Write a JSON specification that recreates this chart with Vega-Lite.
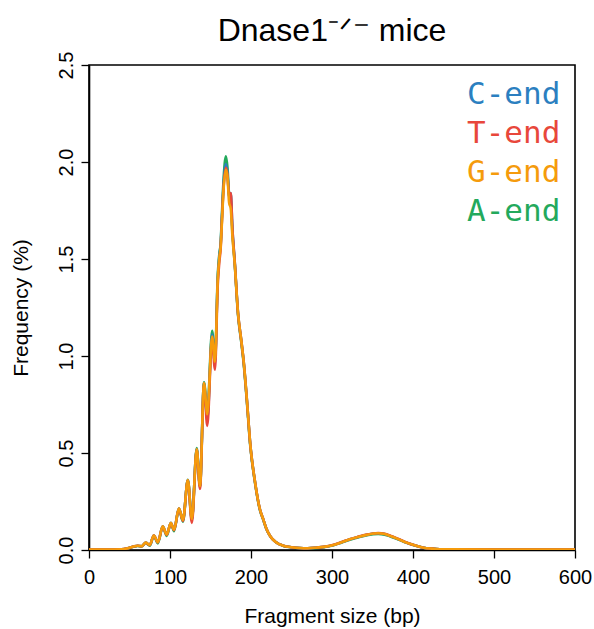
{
  "$schema": "https://vega.github.io/schema/vega-lite/v6.json",
  "autosize": "none",
  "width": 486,
  "height": 485,
  "padding": {"left": 89, "top": 65, "right": 19, "bottom": 79},
  "background": "white",
  "title": {
    "text": "Dnase1⁻ᐟ⁻ mice",
    "font": "Liberation Sans",
    "fontSize": 32,
    "fontWeight": "normal",
    "color": "black",
    "anchor": "middle",
    "offset": 3
  },
  "config": {
    "view": {"stroke": "black", "strokeWidth": 1.6},
    "axis": {
      "grid": false,
      "domainColor": "black",
      "domainWidth": 1.6,
      "tickColor": "black",
      "tickWidth": 1.3,
      "tickSize": 8,
      "labelFont": "Liberation Sans",
      "labelFontSize": 20,
      "labelColor": "black",
      "titleFont": "Liberation Sans",
      "titleFontSize": 21,
      "titleFontWeight": "normal",
      "titleColor": "black"
    }
  },
  "data": {
    "values": [
      {"bp": 0, "C": 0.002, "T": 0.002, "G": 0.002, "A": 0.002},
      {"bp": 20, "C": 0.002, "T": 0.002, "G": 0.002, "A": 0.002},
      {"bp": 40, "C": 0.003, "T": 0.003, "G": 0.003, "A": 0.003},
      {"bp": 50, "C": 0.012, "T": 0.012, "G": 0.012, "A": 0.011},
      {"bp": 55, "C": 0.018, "T": 0.018, "G": 0.018, "A": 0.017},
      {"bp": 60, "C": 0.022, "T": 0.022, "G": 0.022, "A": 0.021},
      {"bp": 65, "C": 0.02, "T": 0.019, "G": 0.02, "A": 0.018},
      {"bp": 70, "C": 0.038, "T": 0.037, "G": 0.038, "A": 0.036},
      {"bp": 75, "C": 0.026, "T": 0.025, "G": 0.026, "A": 0.022},
      {"bp": 80, "C": 0.075, "T": 0.074, "G": 0.075, "A": 0.073},
      {"bp": 85, "C": 0.04, "T": 0.039, "G": 0.04, "A": 0.034},
      {"bp": 91, "C": 0.122, "T": 0.12, "G": 0.122, "A": 0.12},
      {"bp": 96, "C": 0.08, "T": 0.078, "G": 0.08, "A": 0.073},
      {"bp": 101, "C": 0.14, "T": 0.138, "G": 0.14, "A": 0.138},
      {"bp": 105, "C": 0.105, "T": 0.102, "G": 0.105, "A": 0.097},
      {"bp": 111, "C": 0.215, "T": 0.213, "G": 0.215, "A": 0.213},
      {"bp": 116, "C": 0.155, "T": 0.15, "G": 0.155, "A": 0.146},
      {"bp": 122, "C": 0.36, "T": 0.358, "G": 0.36, "A": 0.362},
      {"bp": 127, "C": 0.16, "T": 0.14, "G": 0.16, "A": 0.152},
      {"bp": 133, "C": 0.52, "T": 0.515, "G": 0.52, "A": 0.525},
      {"bp": 137, "C": 0.33, "T": 0.315, "G": 0.33, "A": 0.325},
      {"bp": 142, "C": 0.86, "T": 0.85, "G": 0.86, "A": 0.865},
      {"bp": 146, "C": 0.67, "T": 0.64, "G": 0.7, "A": 0.71},
      {"bp": 152, "C": 1.11, "T": 1.09, "G": 1.1, "A": 1.13},
      {"bp": 155.5, "C": 0.96, "T": 0.93, "G": 0.97, "A": 0.98},
      {"bp": 159, "C": 1.4, "T": 1.37, "G": 1.4, "A": 1.42},
      {"bp": 161, "C": 1.52, "T": 1.49, "G": 1.51, "A": 1.53},
      {"bp": 162.5, "C": 1.57, "T": 1.55, "G": 1.56, "A": 1.58},
      {"bp": 164, "C": 1.7, "T": 1.69, "G": 1.68, "A": 1.72},
      {"bp": 166, "C": 1.87, "T": 1.86, "G": 1.85, "A": 1.9},
      {"bp": 169, "C": 1.99, "T": 1.97, "G": 1.96, "A": 2.03},
      {"bp": 171, "C": 1.94, "T": 1.93, "G": 1.92, "A": 1.97},
      {"bp": 173, "C": 1.82, "T": 1.83, "G": 1.79, "A": 1.83},
      {"bp": 175, "C": 1.84, "T": 1.84, "G": 1.76, "A": 1.8},
      {"bp": 177, "C": 1.66, "T": 1.66, "G": 1.62, "A": 1.64},
      {"bp": 180, "C": 1.48, "T": 1.48, "G": 1.47, "A": 1.47},
      {"bp": 184, "C": 1.22, "T": 1.22, "G": 1.22, "A": 1.21},
      {"bp": 188, "C": 1.08, "T": 1.08, "G": 1.08, "A": 1.07},
      {"bp": 191, "C": 0.97, "T": 0.97, "G": 0.97, "A": 0.96},
      {"bp": 195, "C": 0.77, "T": 0.77, "G": 0.77, "A": 0.76},
      {"bp": 199, "C": 0.55, "T": 0.55, "G": 0.55, "A": 0.54},
      {"bp": 205, "C": 0.35, "T": 0.35, "G": 0.35, "A": 0.345},
      {"bp": 211, "C": 0.21, "T": 0.21, "G": 0.21, "A": 0.205},
      {"bp": 215, "C": 0.16, "T": 0.16, "G": 0.16, "A": 0.157},
      {"bp": 219, "C": 0.11, "T": 0.11, "G": 0.11, "A": 0.108},
      {"bp": 224, "C": 0.07, "T": 0.07, "G": 0.07, "A": 0.069},
      {"bp": 230, "C": 0.043, "T": 0.043, "G": 0.043, "A": 0.042},
      {"bp": 240, "C": 0.022, "T": 0.022, "G": 0.022, "A": 0.021},
      {"bp": 250, "C": 0.014, "T": 0.014, "G": 0.014, "A": 0.014},
      {"bp": 260, "C": 0.01, "T": 0.01, "G": 0.01, "A": 0.01},
      {"bp": 270, "C": 0.009, "T": 0.009, "G": 0.009, "A": 0.009},
      {"bp": 281, "C": 0.012, "T": 0.012, "G": 0.012, "A": 0.011},
      {"bp": 290, "C": 0.016, "T": 0.016, "G": 0.016, "A": 0.015},
      {"bp": 302, "C": 0.026, "T": 0.027, "G": 0.026, "A": 0.025},
      {"bp": 312, "C": 0.04, "T": 0.041, "G": 0.04, "A": 0.039},
      {"bp": 322, "C": 0.055, "T": 0.056, "G": 0.055, "A": 0.053},
      {"bp": 333, "C": 0.068, "T": 0.069, "G": 0.068, "A": 0.066},
      {"bp": 343, "C": 0.078, "T": 0.08, "G": 0.078, "A": 0.076},
      {"bp": 357, "C": 0.086, "T": 0.088, "G": 0.086, "A": 0.083},
      {"bp": 365, "C": 0.082, "T": 0.084, "G": 0.082, "A": 0.079},
      {"bp": 372, "C": 0.072, "T": 0.074, "G": 0.072, "A": 0.07},
      {"bp": 382, "C": 0.056, "T": 0.057, "G": 0.056, "A": 0.054},
      {"bp": 392, "C": 0.038, "T": 0.039, "G": 0.038, "A": 0.037},
      {"bp": 402, "C": 0.024, "T": 0.024, "G": 0.024, "A": 0.023},
      {"bp": 413, "C": 0.012, "T": 0.012, "G": 0.012, "A": 0.012},
      {"bp": 423, "C": 0.007, "T": 0.007, "G": 0.007, "A": 0.007},
      {"bp": 433, "C": 0.004, "T": 0.004, "G": 0.004, "A": 0.004},
      {"bp": 450, "C": 0.003, "T": 0.003, "G": 0.003, "A": 0.003},
      {"bp": 500, "C": 0.002, "T": 0.002, "G": 0.002, "A": 0.002},
      {"bp": 550, "C": 0.002, "T": 0.002, "G": 0.002, "A": 0.002},
      {"bp": 600, "C": 0.002, "T": 0.002, "G": 0.002, "A": 0.002}
    ]
  },
  "encoding": {
    "x": {
      "field": "bp",
      "type": "quantitative",
      "scale": {"domain": [0, 600], "nice": false, "zero": false},
      "axis": {
        "title": "Fragment size (bp)",
        "values": [0, 100, 200, 300, 400, 500, 600],
        "labelPadding": 9,
        "titlePadding": 18,
        "labelFlush": false
      }
    }
  },
  "layer": [
    {
      "mark": {"type": "line", "strokeWidth": 2.6, "clip": true, "interpolate": "monotone"},
      "encoding": {
        "y": {
          "field": "A",
          "type": "quantitative",
          "scale": {"domain": [0, 2.5], "nice": false},
          "axis": {
            "title": "Frequency (%)",
            "values": [0, 0.5, 1, 1.5, 2, 2.5],
            "format": ".1f",
            "labelAngle": -90,
            "labelAlign": "center",
            "labelBaseline": "alphabetic",
            "labelPadding": 9,
            "titlePadding": 25,
            "labelFlush": false
          }
        },
        "color": {"datum": "A-end"}
      }
    },
    {
      "mark": {"type": "line", "strokeWidth": 2.6, "clip": true, "interpolate": "monotone"},
      "encoding": {"y": {"field": "C", "type": "quantitative"}, "color": {"datum": "C-end"}}
    },
    {
      "mark": {"type": "line", "strokeWidth": 2.6, "clip": true, "interpolate": "monotone"},
      "encoding": {"y": {"field": "T", "type": "quantitative"}, "color": {"datum": "T-end"}}
    },
    {
      "mark": {"type": "line", "strokeWidth": 2.6, "clip": true, "interpolate": "monotone"},
      "encoding": {
        "y": {"field": "G", "type": "quantitative"},
        "color": {
          "datum": "G-end",
          "scale": {
            "domain": ["C-end", "T-end", "G-end", "A-end"],
            "range": ["#2b7fc0", "#e8473b", "#f59b0c", "#23a95c"]
          },
          "legend": {
            "title": null,
            "orient": "top-right",
            "offset": 14,
            "padding": 0,
            "symbolSize": 0,
            "symbolOpacity": 0,
            "symbolStrokeWidth": 0,
            "labelOffset": 0,
            "labelFont": "DejaVu Sans Mono",
            "labelFontSize": 31,
            "rowPadding": 7,
            "labelLimit": 200,
            "encode": {"labels": {"update": {"fill": {"scale": "color", "field": "value"}}}}
          }
        }
      }
    }
  ]
}
